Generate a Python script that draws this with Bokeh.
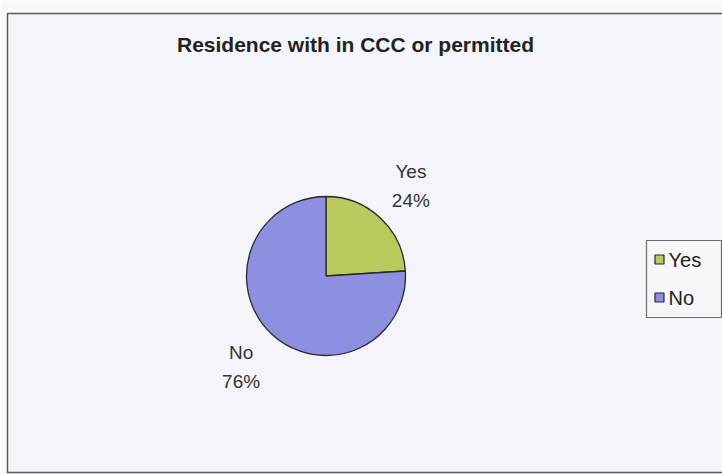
import math
from bokeh.plotting import figure
from bokeh.models import Range1d, ColumnDataSource
from bokeh.core.properties import value
from bokeh.embed import file_html
from bokeh.resources import INLINE

# ---- data ----
title_text = "Residence with in CCC or permitted"
categories = ["Yes", "No"]
shares = [24, 76]
colors = ["#b8ca5c", "#8f8fe2"]

W, H = 722, 474
FONT = "Liberation Sans"

p = figure(width=W, height=H, x_range=Range1d(0, W), y_range=Range1d(0, H),
           output_backend="svg", toolbar_location=None, min_border=0)
p.axis.visible = False
p.xgrid.visible = False
p.ygrid.visible = False
p.outline_line_color = None
p.background_fill_color = "#f8f9fc"
p.border_fill_color = "#f8f9fc"

def Y(py):
    return H - py

# chart frame (decoration)
p.quad(left=[7], right=[W + 5], top=[Y(13)], bottom=[Y(472)],
       fill_color="#f3f5fa", line_color="#5a5a5a", line_width=1.5)

# title
p.text(x=[355], y=[Y(44)], text=[title_text], text_font=value(FONT),
       text_font_style="bold", text_font_size="21px", text_color="#222222",
       text_align="center", text_baseline="middle")

# pie
cx, cy, r = 325.5, Y(275.5), 79.5
total = float(sum(shares))
ends, starts, mids = [], [], []
acc = 0.0
for s in shares:
    a_end = math.pi / 2 - 2 * math.pi * acc / total
    acc += s
    a_start = math.pi / 2 - 2 * math.pi * acc / total
    starts.append(a_start)
    ends.append(a_end)
    mids.append((a_start + a_end) / 2)

src = ColumnDataSource(dict(cat=categories, val=shares, start=starts, end=ends, color=colors))
p.wedge(x=cx, y=cy, radius=r, start_angle="start", end_angle="end", fill_color="color",
        line_color="#2a2a2a", line_width=1.3, source=src)

# data labels
lab_d = 124
lx = [cx + lab_d * math.cos(m) for m in mids]
ly = [cy + lab_d * math.sin(m) for m in mids]
pct = ["%d%%" % round(100 * s / total) for s in shares]
p.text(x=lx, y=ly, text=categories, text_font=value(FONT), text_font_size="19px",
       text_color="#333333", text_align="center", text_baseline="middle", y_offset=-14)
p.text(x=lx, y=ly, text=pct, text_font=value(FONT), text_font_size="19px",
       text_color="#333333", text_align="center", text_baseline="middle", y_offset=15)

# legend
p.quad(left=[646], right=[721], top=[Y(240)], bottom=[Y(317)],
       fill_color="#f6f7fb", line_color="#6a6a6a", line_width=1.2)
leg_y = [Y(259), Y(297)]
p.rect(x=[659] * len(categories), y=leg_y, width=9, height=9, fill_color=colors,
       line_color="#2a2a2a", line_width=1.2)
p.text(x=[668] * len(categories), y=leg_y, text=categories, text_font=value(FONT),
       text_font_size="20px", text_color="#222222", text_align="left",
       text_baseline="middle")

open("out.html", "w").write(file_html(p, INLINE))
